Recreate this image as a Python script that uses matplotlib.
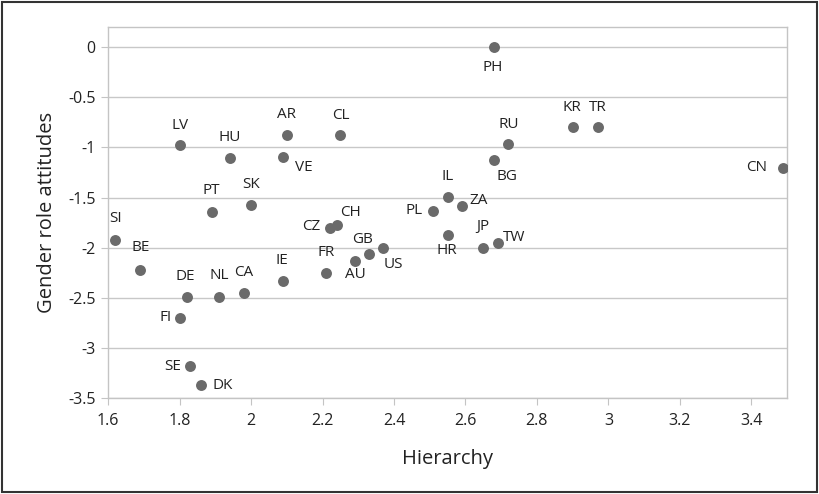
import matplotlib.pyplot as plt
import matplotlib.patches as patches

codes = ["SI", "BE", "LV", "HU", "PT", "SK", "AR", "VE", "CL", "CZ", "CH", "GB", "AU", "US",
         "FR", "IE", "CA", "NL", "DE", "FI", "SE", "DK", "PH", "KR", "TR", "RU", "BG", "CN",
         "IL", "ZA", "PL", "HR", "JP", "TW"]
hierarchy = [1.62, 1.69, 1.80, 1.94, 1.89, 2.00, 2.10, 2.09, 2.25, 2.22, 2.24, 2.33, 2.29, 2.37,
             2.21, 2.09, 1.98, 1.91, 1.82, 1.80, 1.83, 1.86, 2.68, 2.90, 2.97, 2.72, 2.68, 3.49,
             2.55, 2.59, 2.51, 2.55, 2.65, 2.69]
attitudes = [-1.92, -2.22, -0.98, -1.10, -1.64, -1.57, -0.88, -1.09, -0.88, -1.80, -1.77, -2.06, -2.13, -2.00,
             -2.25, -2.33, -2.45, -2.49, -2.49, -2.70, -3.18, -3.37, 0.0, -0.80, -0.80, -0.97, -1.12, -1.20,
             -1.49, -1.58, -1.63, -1.87, -2.00, -1.95]

# label offsets in pixels (dx right, dy down)
offsets = {
    "SI": (0, -21), "BE": (0, -22), "LV": (0, -20), "HU": (0, -20), "PT": (0, -21), "SK": (0, -20),
    "AR": (0, -21), "VE": (21, 11), "CL": (0, -20), "CZ": (-18, -1), "CH": (14, -12), "GB": (-6, -14),
    "AU": (1, 14), "US": (10, 17), "FR": (0, -20), "IE": (-1, -20), "CA": (0, -20), "NL": (0, -21),
    "DE": (-1, -20), "FI": (-14, 0), "SE": (-18, 0), "DK": (22, 0), "PH": (-1, 20), "KR": (-1, -20),
    "TR": (0, -20), "RU": (0, -20), "BG": (13, 17), "CN": (-27, 0), "IL": (0, -20), "ZA": (17, -5),
    "PL": (-19, 0), "HR": (-1, 16), "JP": (-1, -21), "TW": (17, -5),
}

plt.rcParams["font.family"] = ["Open Sans", "DejaVu Sans"]

fig = plt.figure(figsize=(8.19, 4.94), dpi=100)
ax = fig.add_axes([0.132, 0.194, 0.829, 0.751])

ax.scatter(hierarchy, attitudes, s=62, color="#6a6a6a", zorder=3, linewidths=0)
for code, x, y in zip(codes, hierarchy, attitudes):
    dx, dy = offsets[code]
    ax.annotate(code, (x, y), xytext=(dx * 0.72, -dy * 0.72), textcoords="offset points",
                ha="center", va="center", fontsize=11, color="#222222")

ax.set_xlim(1.6, 3.5)
ax.set_ylim(-3.5, 0.2)
ax.set_xticks([1.6, 1.8, 2.0, 2.2, 2.4, 2.6, 2.8, 3.0, 3.2, 3.4])
ax.set_xticklabels(["1.6", "1.8", "2", "2.2", "2.4", "2.6", "2.8", "3", "3.2", "3.4"])
ax.set_yticks([0, -0.5, -1, -1.5, -2, -2.5, -3, -3.5])
ax.set_yticklabels(["0", "-0.5", "-1", "-1.5", "-2", "-2.5", "-3", "-3.5"])
ax.grid(axis="y", color="#c8c8c8", linewidth=1)
ax.set_axisbelow(True)
for side in ["top", "right", "left", "bottom"]:
    ax.spines[side].set_color("#c4c4c4")
    ax.spines[side].set_linewidth(1)
ax.tick_params(axis="x", length=5, color="#c4c4c4", labelsize=11.5, labelcolor="#222222", pad=6)
ax.tick_params(axis="y", length=5, color="#c4c4c4", labelsize=11.5, labelcolor="#222222", pad=4)

ax.set_xlabel("Hierarchy", fontsize=14.5, color="#222222", labelpad=14)
ax.set_ylabel("Gender role attitudes", fontsize=14.5, color="#222222", labelpad=8)

fig.patches.append(patches.Rectangle((0.003, 0.005), 0.994, 0.99, transform=fig.transFigure,
                                     fill=False, edgecolor="#333333", linewidth=1.5))

fig.savefig("out.png", dpi=100)
